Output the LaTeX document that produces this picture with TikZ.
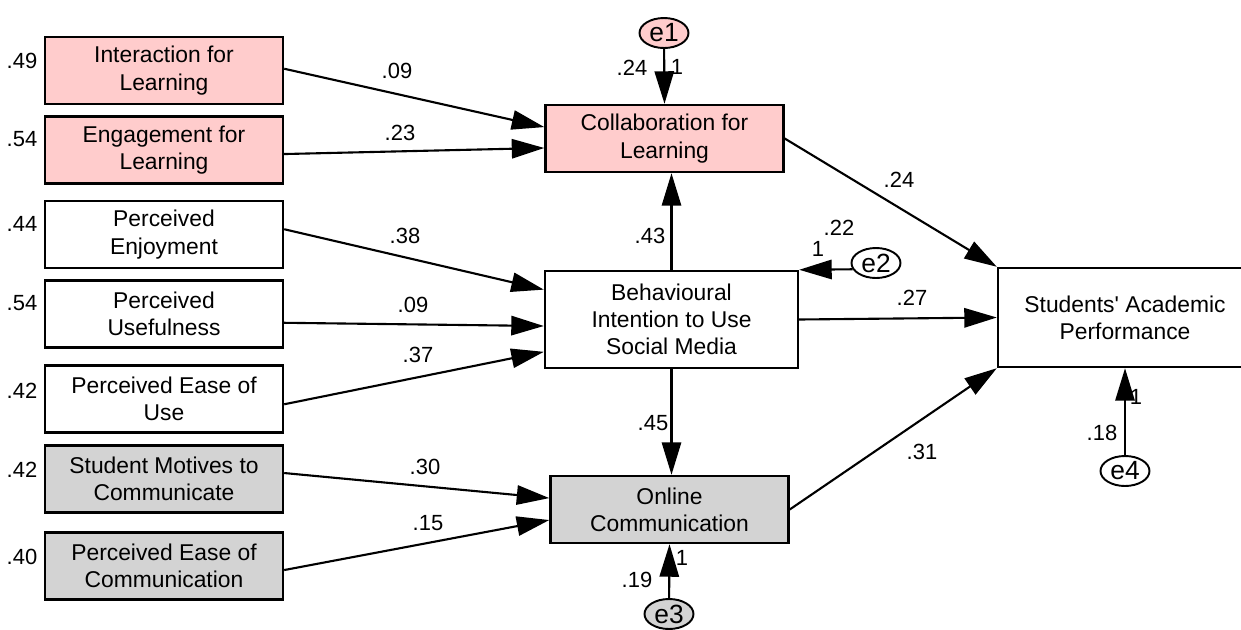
\documentclass[tikz,border=0pt]{standalone}
\usepackage{fontspec}
\setmainfont{Liberation Sans}
\usetikzlibrary{arrows.meta}
\usetikzlibrary{shapes.geometric}
\definecolor{learnColor}{HTML}{FFCCCC}
\definecolor{commColor}{HTML}{D3D3D3}

\begin{document}
\begin{tikzpicture}[x=0.02cm, y=-0.02cm, >={Triangle[length=18.5pt, width=11pt]},
    every node/.style={font=\fontsize{13}{15.5}\selectfont}]
    \tikzset{
        construct/.style={draw, line width=1.4pt, minimum width=4.76cm,
            minimum height=1.34cm, inner sep=2pt, align=center},
        wide/.style={minimum width=5.06cm, minimum height=1.94cm},
        residual/.style={draw, ellipse, line width=1.1pt, minimum width=0.98cm,
            minimum height=0.6cm, inner sep=0pt, font=\fontsize{15}{17}\selectfont},
        coef/.style={inner sep=1pt, font=\fontsize{12.5}{14}\selectfont},
        arrowpath/.style={->, line width=1.2pt}
    }
    \useasboundingbox (0,0) rectangle (1241,629);
    % exogenous constructs
    \node[construct, fill=learnColor] (il) at (164,70.5) {Interaction for\\Learning};
    \node[construct, fill=learnColor] (el) at (164,150) {Engagement for\\Learning};
    \node[construct] (pe) at (164,234.5) {Perceived\\Enjoyment};
    \node[construct] (pu) at (164,314) {Perceived\\Usefulness};
    \node[construct] (peu) at (164,399) {Perceived Ease of\\Use};
    \node[construct, fill=commColor] (smc) at (164,479) {Student Motives to\\Communicate};
    \node[construct, fill=commColor] (pec) at (164,566) {Perceived Ease of\\Communication};
    % endogenous constructs
    \node[construct, fill=learnColor] (cl) at (664.5,138.5) {Collaboration for\\Learning};
    \node[construct, wide] (bi) at (671.5,319.5) {Behavioural\\Intention to Use\\Social Media};
    \node[construct, fill=commColor] (oc) at (669.5,509.5) {Online\\Communication};
    \node[construct, wide, minimum width=5.08cm, minimum height=1.98cm] (sap) at (1125,317.5) {Students\textquotesingle{} Academic\\Performance};
    % error terms
    \node[residual, fill=learnColor] (e1) at (664,33) {e1};
    \node[residual] (e2) at (876,263) {e2};
    \node[residual, fill=commColor] (e3) at (669,614) {e3};
    \node[residual] (e4) at (1125,471) {e4};
    % variances
    \node[coef] (v-il) at (22,61) {.49};
    \node[coef] (v-el) at (22,139) {.54};
    \node[coef] (v-pe) at (22,224) {.44};
    \node[coef] (v-pu) at (22,303) {.54};
    \node[coef] (v-peu) at (22,391) {.42};
    \node[coef] (v-smc) at (22,470) {.42};
    \node[coef] (v-pec) at (22,557) {.40};
    % paths
    \draw[arrowpath] ([yshift=1pt]il.east) -- ([yshift=6.5pt]cl.west);
    \draw[arrowpath] ([yshift=-2.3pt]el.east) -- ([yshift=-5.4pt]cl.west);
    \draw[arrowpath] ([yshift=3pt]pe.east) -- ([yshift=17pt]bi.west);
    \draw[arrowpath] ([yshift=-5pt]pu.east) -- ([yshift=-3.7pt]bi.west);
    \draw[arrowpath] ([yshift=-3pt]peu.east) -- ([yshift=-18.4pt]bi.west);
    \draw[arrowpath] ([yshift=3.4pt]smc.east) -- ([yshift=6.5pt]oc.west);
    \draw[arrowpath] ([yshift=-2.3pt]pec.east) -- ([yshift=-6pt]oc.west);
    \draw[arrowpath] (bi.north) -- (bi.north |- cl.south);
    \draw[arrowpath] (bi.south) -- (bi.south |- oc.north);
    \draw[arrowpath] (cl.east) -- (sap.north west);
    \draw[arrowpath] (bi.east) -- (sap.west);
    \draw[arrowpath] (oc.east) -- (sap.south west);
    \draw[arrowpath] (e1) -- (cl.north);
    \draw[arrowpath] (e2.195) -- (bi.north east);
    \draw[arrowpath] (e3) -- (oc.south);
    \draw[arrowpath] (e4) -- (sap.south);
    % path weights
    \node[coef] (w-il) at (397,71) {.09};
    \node[coef] (w-el) at (400,133) {.23};
    \node[coef] (w-pe) at (405,236) {.38};
    \node[coef] (w-pu) at (413,305) {.09};
    \node[coef] (w-peu) at (418,355) {.37};
    \node[coef] (w-smc) at (425,467) {.30};
    \node[coef] (w-pec) at (428,523) {.15};
    \node[coef] (w-bicl) at (650,236) {.43};
    \node[coef] (w-bioc) at (653,423) {.45};
    \node[coef] (w-clsap) at (899,180) {.24};
    \node[coef] (w-bisap) at (912,298) {.27};
    \node[coef] (w-ocsap) at (922,452) {.31};
    % error weights
    \node[coef] (r-e1) at (632,68) {.24};
    \node[coef] (f-e1) at (677,67) {1};
    \node[coef] (r-e2) at (839,228) {.22};
    \node[coef] (f-e2) at (818,249) {1};
    \node[coef] (r-e3) at (637,580) {.19};
    \node[coef] (f-e3) at (682,558) {1};
    \node[coef] (r-e4) at (1102,433) {.18};
    \node[coef] (f-e4) at (1136,397) {1};
\end{tikzpicture}
\end{document}
